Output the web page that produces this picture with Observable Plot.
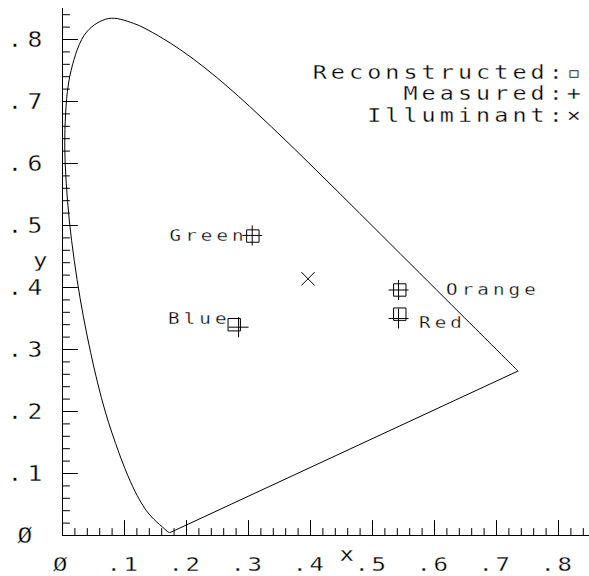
<!DOCTYPE html>
<html><head><meta charset="utf-8">
<script src="https://cdn.jsdelivr.net/npm/d3@7"></script>
<script src="https://cdn.jsdelivr.net/npm/@observablehq/plot@0.6"></script>
<style>
body{margin:0;background:#fff}
svg{display:block}
g[font-size="20"] text {letter-spacing:2.1px}
g[font-size="20.5"] text {letter-spacing:4.3px}
g[font-size="19.5"] text {letter-spacing:3.4px}
g[font-size="16"] text {letter-spacing:3.4px}
</style>
</head><body><div id="chart"></div>
<script>
// CIE 1931 spectral locus (380-700 nm, 5 nm)
const wavelengths = [380,385,390,395,400,405,410,415,420,425,430,435,440,445,450,455,460,465,470,475,480,485,490,495,500,505,510,515,520,525,530,535,540,545,550,555,560,565,570,575,580,585,590,595,600,605,610,615,620,625,630,635,640,645,650,655,660,665,670,675,680,685,690,695,700];
const locusX = [0.1741,0.1740,0.1738,0.1736,0.1733,0.1730,0.1726,0.1721,0.1714,0.1703,0.1689,0.1669,0.1644,0.1611,0.1566,0.1510,0.1440,0.1355,0.1241,0.1096,0.0913,0.0687,0.0454,0.0235,0.0082,0.0039,0.0139,0.0389,0.0743,0.1142,0.1547,0.1929,0.2296,0.2658,0.3016,0.3373,0.3731,0.4087,0.4441,0.4788,0.5125,0.5448,0.5752,0.6029,0.6270,0.6482,0.6658,0.6801,0.6915,0.7006,0.7079,0.7140,0.7190,0.7230,0.7260,0.7283,0.7300,0.7311,0.7320,0.7327,0.7334,0.7340,0.7344,0.7346,0.7347];
const locusY = [0.0050,0.0050,0.0049,0.0049,0.0048,0.0048,0.0048,0.0048,0.0051,0.0058,0.0069,0.0086,0.0109,0.0138,0.0177,0.0227,0.0297,0.0399,0.0578,0.0868,0.1327,0.2007,0.2950,0.4127,0.5384,0.6548,0.7502,0.8120,0.8338,0.8262,0.8059,0.7816,0.7543,0.7243,0.6923,0.6589,0.6245,0.5896,0.5547,0.5202,0.4866,0.4544,0.4242,0.3965,0.3725,0.3514,0.3340,0.3197,0.3083,0.2993,0.2920,0.2859,0.2809,0.2770,0.2740,0.2717,0.2700,0.2689,0.2680,0.2673,0.2666,0.2660,0.2656,0.2654,0.2653];

const samples = ["Green", "Blue", "Orange", "Red"];
const measuredX = [0.306, 0.284, 0.542, 0.542];
const measuredY = [0.484, 0.336, 0.396, 0.350];
const reconstructedX = [0.307, 0.277, 0.544, 0.544];
const reconstructedY = [0.483, 0.340, 0.396, 0.357];
const illuminantX = [0.396];
const illuminantY = [0.414];

const majorTicks = [0, 0.1, 0.2, 0.3, 0.4, 0.5, 0.6, 0.7, 0.8];
const tickLabels = ["Ø", ".1", ".2", ".3", ".4", ".5", ".6", ".7", ".8"];
const minorTicks = d3.range(0, 0.85, 0.02);
const legendLines = ["Reconstructed:▫", "Measured:+", "Illuminant:×"];
const axisTitles = {x: "x", y: "y"};

// build tables
const locus = wavelengths.map((w, i) => ({w, x: locusX[i], y: locusY[i]}));
const purple = [{x1: locusX[locusX.length - 1], y1: locusY[locusY.length - 1], x2: locusX[0], y2: locusY[0]}];
const measured = samples.map((name, i) => ({name, x: measuredX[i], y: measuredY[i]}));
const reconstructed = samples.map((name, i) => ({name, x: reconstructedX[i], y: reconstructedY[i]}));
const illuminant = illuminantX.map((x, i) => ({x, y: illuminantY[i]}));
const ticks = majorTicks.map((v, i) => ({v, label: tickLabels[i]}));

const FONT = "DejaVu Sans Mono";
const thin = {fill: "black", stroke: "white", strokeWidth: 0.3, paintOrder: "normal", fontFamily: FONT};
const tickUp = {draw(ctx, l) { ctx.moveTo(0, 0); ctx.lineTo(0, -l); }};

function label(name, opts) {
  return Plot.text(measured.filter(d => d.name === name), {x: "x", y: "y", text: "name", fontSize: 16, lineAnchor: "middle", ...thin, ...opts});
}

const chart = Plot.plot({
  width: 589, height: 576,
  marginLeft: 62, marginRight: 0, marginTop: 8, marginBottom: 41,
  x: {domain: [0, 0.85], axis: null},
  y: {domain: [0, 0.85], axis: null},
  marks: [
    Plot.ruleX([0], {stroke: "black"}),
    Plot.ruleY([0], {stroke: "black"}),
    Plot.vector(minorTicks, {x: d => d, frameAnchor: "bottom", length: 7, rotate: 0, anchor: "start", shape: tickUp, stroke: "black", strokeWidth: 1}),
    Plot.vector(majorTicks, {x: d => d, frameAnchor: "bottom", length: 15, rotate: 0, anchor: "start", shape: tickUp, stroke: "black", strokeWidth: 1}),
    Plot.vector(minorTicks, {y: d => d, frameAnchor: "left", length: 7, rotate: 90, anchor: "start", shape: tickUp, stroke: "black", strokeWidth: 1}),
    Plot.vector(majorTicks, {y: d => d, frameAnchor: "left", length: 15, rotate: 90, anchor: "start", shape: tickUp, stroke: "black", strokeWidth: 1}),
    Plot.text(ticks, {x: "v", text: "label", frameAnchor: "bottom", textAnchor: "middle", lineAnchor: "middle", dy: 29.5, dx: -1, fontSize: 20, ...thin}),
    Plot.text(ticks, {y: "v", text: "label", frameAnchor: "left", textAnchor: "middle", lineAnchor: "middle", dx: -35, dy: 1, fontSize: 20.5, ...thin}),
    Plot.text([axisTitles.x], {text: d => d, frameAnchor: "bottom", textAnchor: "middle", lineAnchor: "middle", dx: 22, dy: 19, fontSize: 20, ...thin}),
    Plot.text([axisTitles.y], {text: d => d, frameAnchor: "left", textAnchor: "middle", lineAnchor: "middle", dx: -21, dy: -11, fontSize: 20, ...thin}),
    Plot.line(locus, {x: "x", y: "y", stroke: "black", strokeWidth: 1, curve: "catmull-rom"}),
    Plot.link(purple, {x1: "x1", y1: "y1", x2: "x2", y2: "y2", stroke: "black", strokeWidth: 1}),
    Plot.dot(reconstructed, {x: "x", y: "y", symbol: "square", r: 7, fill: "none", stroke: "black", strokeWidth: 1}),
    Plot.dot(measured, {x: "x", y: "y", symbol: "plus", r: 6.5, stroke: "black", strokeWidth: 1}),
    Plot.dot(illuminant, {x: "x", y: "y", symbol: "times", r: 6.1, stroke: "black", strokeWidth: 1}),
    label("Green", {textAnchor: "end", dx: -4.5}),
    label("Blue", {textAnchor: "end", dx: -8, dy: -8}),
    label("Orange", {textAnchor: "start", dx: 47.5}),
    label("Red", {textAnchor: "start", dx: 20.5, dy: 4}),
    Plot.text([legendLines.join("\n")], {text: d => d, frameAnchor: "top-right", textAnchor: "end", lineAnchor: "top", lineHeight: 1.1, dx: -4.5, dy: 55, fontSize: 19.5, ...thin})
  ]
});
// plotter lettering is wider than the screen font: stretch each glyph run horizontally
d3.select(chart).selectAll("text").each(function() {
  const t = this.getAttribute("transform");
  this.setAttribute("transform", (t ? t + " " : "") + "scale(1.2,1)");
});
document.getElementById("chart").appendChild(chart);
</script>
</body></html>
